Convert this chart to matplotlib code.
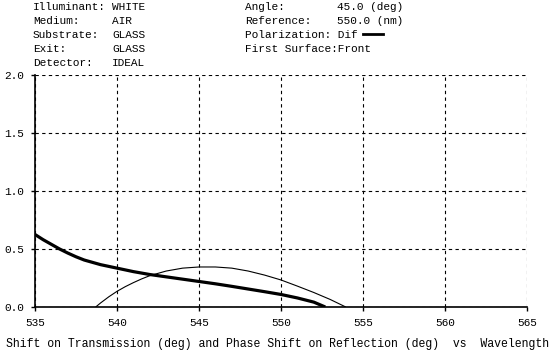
import matplotlib
matplotlib.use("Agg")
import matplotlib.pyplot as plt

W, H = 557, 357

wl_thick = [535, 535.5, 536, 536.5, 537, 537.5, 538, 539, 540, 541, 542, 543, 544, 545, 546, 547, 548, 549, 550, 551, 552, 552.7]
val_thick = [0.625, 0.58, 0.54, 0.50, 0.465, 0.433, 0.405, 0.365, 0.335, 0.305, 0.28, 0.26, 0.24, 0.22, 0.2, 0.178, 0.155, 0.132, 0.108, 0.078, 0.042, 0.0]

wl_thin = [538.7, 539, 539.5, 540, 540.5, 541, 541.5, 542, 543, 544, 545, 546, 547, 548, 549, 550, 551, 552, 553, 553.95]
val_thin = [0.0, 0.035, 0.088, 0.135, 0.175, 0.21, 0.242, 0.27, 0.31, 0.335, 0.345, 0.345, 0.335, 0.31, 0.275, 0.233, 0.18, 0.125, 0.065, 0.0]

x_ticks = [535, 540, 545, 550, 555, 560, 565]
y_ticks = [0.0, 0.5, 1.0, 1.5, 2.0]

left_labels = ["Illuminant:", "Medium:", "Substrate:", "Exit:", "Detector:"]
left_values = ["WHITE", "AIR", "GLASS", "GLASS", "IDEAL"]
right_labels = ["Angle:", "Reference:", "Polarization: Dif", "First Surface:Front"]
right_values = ["45.0 (deg)", "550.0 (nm)", "", ""]
title = "Shift on Transmission (deg) and Phase Shift on Reflection (deg)  vs  Wavelength"

FONT = "Liberation Mono"
FS = 8.0

fig = plt.figure(figsize=(W / 100, H / 100), dpi=100)
fig.patch.set_facecolor("white")

def fx(px):
    return px / W

def fy(py):
    return 1 - py / H

ax = fig.add_axes([fx(35), fy(307), (527 - 35) / W, (307 - 75) / H])
ax.plot(wl_thin, val_thin, color="black", lw=0.8, solid_capstyle="butt")
ax.plot(wl_thick, val_thick, color="black", lw=2.3, solid_capstyle="butt")
ax.set_xlim(535, 565)
ax.set_ylim(0, 2)
ax.set_xticks(x_ticks)
ax.set_yticks(y_ticks)
ax.set_xticklabels([str(v) for v in x_ticks], fontfamily=FONT, fontsize=FS)
ax.set_yticklabels([f"{v:.1f}" for v in y_ticks], fontfamily=FONT, fontsize=FS)
ax.tick_params(direction="out", length=3, width=1, color="black", pad=5)
ax.grid(True, color="black", linestyle=(0, (3, 3)), linewidth=0.8)
for s in ["top", "right"]:
    ax.spines[s].set_visible(False)
for s in ["left", "bottom"]:
    ax.spines[s].set_linewidth(1.2)
ax.set_facecolor("white")

rows = [6.7, 20.7, 34.7, 49, 63]
for i, (lab, val) in enumerate(zip(left_labels, left_values)):
    fig.text(fx(33), fy(rows[i]), lab, fontfamily=FONT, fontsize=FS, va="center", ha="left")
    fig.text(fx(112), fy(rows[i]), val, fontfamily=FONT, fontsize=FS, va="center", ha="left")
for i, (lab, val) in enumerate(zip(right_labels, right_values)):
    fig.text(fx(245), fy(rows[i]), lab, fontfamily=FONT, fontsize=FS, va="center", ha="left")
    if val:
        fig.text(fx(337), fy(rows[i]), val, fontfamily=FONT, fontsize=FS, va="center", ha="left")

fig.add_artist(plt.Line2D([fx(363), fx(383)], [fy(34), fy(34)], color="black", lw=2.0))

fig.text(fx(6), fy(344), title, fontfamily=FONT, fontsize=8.3, va="center", ha="left")

fig.savefig("out.png", dpi=100, facecolor="white")
